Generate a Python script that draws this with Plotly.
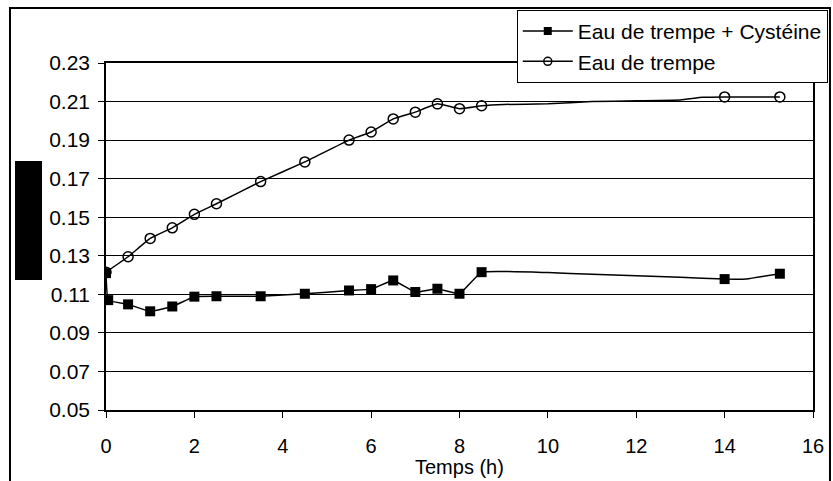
import plotly.graph_objects as go

# ======================================
# DATA
# ======================================

# Eau de trempe + Cystéine : points avec marqueur
temps_cys = [0, 0.05, 0.5, 1, 1.5, 2, 2.5, 3.5, 4.5, 5.5, 6, 6.5, 7, 7.5, 8, 8.5, 14, 15.25]
valeurs_cys = [0.121, 0.107, 0.1048, 0.1012, 0.1037, 0.1088, 0.1090, 0.1090, 0.1103,
               0.1120, 0.1127, 0.1172, 0.1112, 0.1129, 0.1103, 0.1215, 0.1179, 0.1207]

# Eau de trempe + Cystéine : points intermédiaires sans marqueur
temps_cys_lisse = [10, 11, 13, 14.5]
valeurs_cys_lisse = [0.1213, 0.1204, 0.1188, 0.1180]

# Eau de trempe : points avec marqueur
temps_eau = [0, 0.5, 1, 1.5, 2, 2.5, 3.5, 4.5, 5.5, 6, 6.5, 7, 7.5, 8, 8.5, 14, 15.25]
valeurs_eau = [0.1215, 0.1295, 0.1390, 0.1445, 0.1515, 0.1570, 0.1685, 0.1787,
               0.1900, 0.1942, 0.2010, 0.2045, 0.2088, 0.2063, 0.2078, 0.2124, 0.2124]

# Eau de trempe : points intermédiaires sans marqueur
temps_eau_lisse = [9, 10, 11, 12, 13, 13.5]
valeurs_eau_lisse = [0.2085, 0.2088, 0.2100, 0.2104, 0.2108, 0.2122]

y_ticks = [0.05, 0.07, 0.09, 0.11, 0.13, 0.15, 0.17, 0.19, 0.21, 0.23]
x_ticks = [0, 2, 4, 6, 8, 10, 12, 14, 16]

FONT = "Liberation Sans, Arial, sans-serif"


def merge(xa, ya, xb, yb):

    pts = sorted(zip(list(xa) + list(xb), list(ya) + list(yb)))

    return [p[0] for p in pts], [p[1] for p in pts]


# ======================================
# CHART
# ======================================


def create_chart():

    fig = go.Figure()

    series = [
        ("Eau de trempe + Cystéine", temps_cys, valeurs_cys, temps_cys_lisse, valeurs_cys_lisse,
         dict(symbol="square", size=10, color="black")),
        ("Eau de trempe", temps_eau, valeurs_eau, temps_eau_lisse, valeurs_eau_lisse,
         dict(symbol="circle-open", size=10, color="black", line=dict(width=1.5, color="black"))),
    ]

    for name, xm, ym, xs, ys, marker in series:

        x_all, y_all = merge(xm, ym, xs, ys)

        # ligne lissée
        fig.add_trace(
            go.Scatter(
                x=x_all,
                y=y_all,
                mode="lines",
                line=dict(color="black", width=1.5, shape="spline", smoothing=0.3),
                showlegend=False,
                hoverinfo="skip",
            )
        )

        # marqueurs
        fig.add_trace(
            go.Scatter(
                x=xm,
                y=ym,
                mode="markers",
                marker=marker,
                showlegend=False,
            )
        )

        # entrée de légende
        legend_marker = dict(marker)
        legend_marker["size"] = 8
        fig.add_trace(
            go.Scatter(
                x=[None],
                y=[None],
                mode="lines+markers",
                name=name,
                line=dict(color="black", width=1.5),
                marker=legend_marker,
            )
        )

    axis_common = dict(
        showline=True,
        linecolor="black",
        linewidth=1.5,
        mirror=True,
        ticks="outside",
        ticklen=6,
        tickcolor="black",
        tickfont=dict(family=FONT, size=21, color="black"),
        zeroline=False,
        automargin=False,
    )

    fig.update_xaxes(
        range=[0, 16],
        tickvals=x_ticks,
        showgrid=False,
        ticklabelstandoff=11,
        **axis_common,
    )
    fig.update_xaxes(tickfont=dict(family=FONT, size=20, color="black"))

    fig.update_yaxes(
        range=[0.05, 0.23],
        tickvals=y_ticks,
        tickformat=".2f",
        showgrid=True,
        gridcolor="black",
        gridwidth=1.2,
        ticklabelstandoff=4,
        **axis_common,
    )

    # titre de l'axe X
    fig.add_annotation(
        text="Temps (h)",
        xref="paper", yref="paper",
        x=0.5, y=-0.164,
        xanchor="center", yanchor="middle",
        showarrow=False,
        font=dict(family=FONT, size=20, color="black"),
    )

    # cadre extérieur
    fig.add_shape(
        type="rect", xref="paper", yref="paper",
        x0=-0.1358, x1=1.024, y0=-0.3, y1=1.1585,
        line=dict(color="black", width=2), fillcolor="rgba(0,0,0,0)", layer="below",
    )

    # titre de l'axe Y masqué
    fig.add_shape(
        type="rect", xref="paper", yref="paper",
        x0=-0.1287, x1=-0.0905, y0=0.3746, y1=0.7176,
        line=dict(width=0), fillcolor="black",
    )

    fig.update_layout(
        width=833,
        height=481,
        margin=dict(l=106, r=20, t=63, b=71, autoexpand=False),
        paper_bgcolor="white",
        plot_bgcolor="white",
        font=dict(family=FONT, size=21, color="black"),
        showlegend=True,
        legend=dict(
            x=0.581,
            y=1.153,
            xanchor="left",
            yanchor="top",
            bgcolor="white",
            bordercolor="black",
            borderwidth=1,
            font=dict(family=FONT, size=21, color="black"),
            itemwidth=50,
            tracegroupgap=0,
        ),
    )

    return fig


fig = create_chart()

fig.write_html(
    "out.html",
    config={"displayModeBar": False},
    post_script="document.body.style.margin='0px';",
)
